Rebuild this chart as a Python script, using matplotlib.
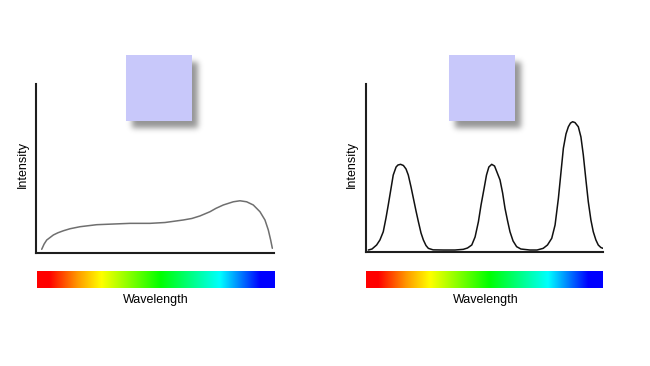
import numpy as np
import matplotlib
matplotlib.use("Agg")
import matplotlib.pyplot as plt
from matplotlib.colors import LinearSegmentedColormap
from matplotlib.patches import Rectangle

plt.rcParams['font.family'] = ['Liberation Sans', 'DejaVu Sans']

# ---- data (arbitrary units 0-100) ----
broad_wavelength = [2.4, 3.4, 4.5, 5.9, 7.3, 9.2, 11.5, 14.3, 18.5, 25.5, 32.5, 39.5,
                    47.9, 54.2, 61.9, 65.5, 68.9, 73.1, 75.6, 78.7, 82.9, 85.7, 88.5,
                    91.3, 94.1, 96.2, 97.6, 98.6, 99.3]
broad_intensity = [1.9, 5.0, 7.4, 8.9, 10.4, 11.7, 12.9, 14.1, 15.3, 16.5, 16.9, 17.3,
                   17.3, 17.8, 19.3, 20.2, 21.7, 24.2, 26.2, 28.2, 30.1, 30.7, 30.1,
                   28.2, 24.2, 19.3, 13.4, 7.4, 2.5]

line_wavelength = [1.1, 2.65, 4.6, 6.0, 7.4, 8.55, 9.5, 10.7, 11.6, 12.8, 13.6, 14.7,
                   15.9, 17.0, 17.95, 19.1, 20.1, 21.2, 22.2, 23.3, 24.3, 25.4, 26.4,
                   28.4, 32.7, 37.6, 41.1, 42.9, 44.7, 46.1, 47.5, 48.6, 49.9, 50.9,
                   51.9, 53.1, 54.3, 55.3, 56.6, 57.7, 58.7, 59.8, 60.8, 62.1, 63.6,
                   65.4, 69.2, 72.2, 74.8, 76.6, 78.4, 79.8, 81.2, 82.3, 83.3, 84.4,
                   85.4, 86.3, 87.2, 88.2, 89.6, 90.7, 91.7, 92.8, 93.8, 94.9, 95.9,
                   97.0, 98.0, 99.1, 100.0]
line_intensity = [1.0, 1.6, 4.0, 7.0, 11.9, 20.1, 27.8, 38.0, 45.7, 50.5, 51.7, 52.1,
                  51.4, 49.3, 45.7, 38.6, 31.8, 24.3, 17.9, 11.2, 7.0, 3.7, 2.0,
                  1.1, 1.0, 1.0, 1.4, 2.2, 4.0, 8.8, 17.9, 27.8, 37.8, 45.7,
                  50.5, 52.1, 51.1, 47.5, 42.8, 35.0, 25.9, 18.3, 11.9, 6.4, 3.0,
                  1.6, 1.0, 1.0, 2.0, 4.0, 8.0, 15.9, 31.8, 47.5, 61.7, 70.2,
                  74.5, 76.7, 77.5, 77.0, 74.5, 68.4, 57.7, 42.8, 29.8, 18.9, 11.9,
                  7.0, 4.0, 2.5, 2.0]

spectrum_stops = [0.0, 0.05, 0.17, 0.27, 0.52, 0.77, 0.94, 1.0]
spectrum_colors = ['#ff0000', '#ff0000', '#ff9900', '#ffff00', '#00ff00',
                   '#00ffff', '#0000ff', '#0000ff']

x_label = "Wavelength"
y_label = "Intensity"
square_color = '#c8c8fa'

W, H = 650, 366
fig = plt.figure(figsize=(W / 100, H / 100), dpi=100)
fig.patch.set_facecolor('white')


def fr(x0, y_top, x1, y_bot):
    """pixel box -> figure fraction rect"""
    return [x0 / W, 1 - y_bot / H, (x1 - x0) / W, (y_bot - y_top) / H]


def soft_profile(n, a, b, sigma):
    """1-D blurred box profile (for the drop shadow)"""
    step = np.zeros(n)
    step[a:b] = 1.0
    k = np.arange(-4 * sigma, 4 * sigma + 1)
    kern = np.exp(-0.5 * (k / sigma) ** 2)
    kern /= kern.sum()
    return np.convolve(step, kern, mode='same')


cmap = LinearSegmentedColormap.from_list(
    'spec', list(zip(spectrum_stops, spectrum_colors)))

panels = [
    dict(ax=(36, 84, 274, 252.5), wl=broad_wavelength, it=broad_intensity,
         color='#6f6f6f', lw=1.1, sq=(126, 55)),
    dict(ax=(365.7, 84, 603, 251.7), wl=line_wavelength, it=line_intensity,
         color='#111111', lw=1.1, sq=(449, 55)),
]

overlay = fig.add_axes([0, 0, 1, 1], zorder=5)
overlay.set_xlim(0, W)
overlay.set_ylim(H, 0)
overlay.axis('off')
overlay.patch.set_alpha(0)

for p in panels:
    x0, yt, x1, yb = p['ax']
    ax = fig.add_axes(fr(x0, yt, x1, yb))
    ax.plot(p['wl'], p['it'], color=p['color'], lw=p['lw'], solid_capstyle='round')
    ax.set_xlim(0, 100)
    ax.set_ylim(0, 100)
    ax.set_xticks([])
    ax.set_yticks([])
    for s in ['top', 'right']:
        ax.spines[s].set_visible(False)
    for s in ['left', 'bottom']:
        ax.spines[s].set_color('#1e1e1e')
        ax.spines[s].set_linewidth(1.5)
    ax.patch.set_alpha(0)

    # spectrum bar
    bx = fig.add_axes(fr(x0 + 0.7, 270.7, x1 + 0.3, 287.7))
    bx.imshow(np.linspace(0, 1, 512)[None, :], cmap=cmap, aspect='auto')
    bx.axis('off')

    cx = (x0 + x1) / 2 + 1
    fig.text(cx / W, 1 - 300 / H, x_label, ha='center', va='center', fontsize=9)
    fig.text((x0 - 13.5) / W, 1 - 164.5 / H, y_label, ha='center', va='center',
             rotation=90, fontsize=9)

    # square with soft drop shadow
    sx, sy = p['sq']
    size = 66
    pad = 20
    n = size + 2 * pad
    fx = soft_profile(n, pad + 6, pad + 6 + size, 3)
    fy = soft_profile(n, pad + 7, pad + 7 + size, 3)
    alpha = 0.42 * np.outer(fy, fx)
    rgba = np.zeros((n, n, 4))
    rgba[..., 3] = alpha
    overlay.imshow(rgba, extent=(sx - pad, sx - pad + n, sy - pad + n, sy - pad),
                   interpolation='bilinear', zorder=1)
    overlay.add_patch(Rectangle((sx, sy), size, size, facecolor=square_color,
                                edgecolor='none', zorder=2))

overlay.set_xlim(0, W)
overlay.set_ylim(H, 0)
overlay.set_aspect('auto')

fig.savefig('out.png', dpi=100, facecolor='white')
